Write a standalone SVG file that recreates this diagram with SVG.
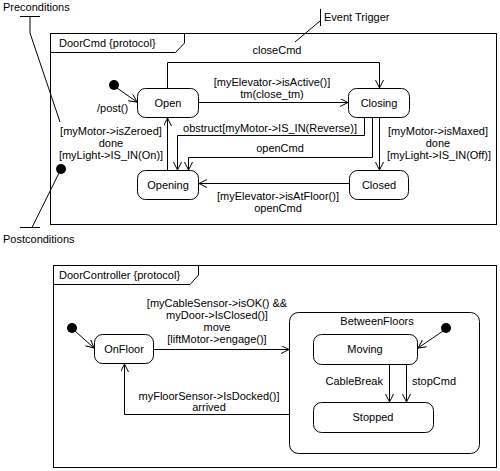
<svg xmlns="http://www.w3.org/2000/svg" width="500" height="471" viewBox="0 0 500 471">
<style>
text{font-family:"Liberation Sans",Arial,sans-serif;font-size:11px;fill:#000}
.c{text-anchor:middle}
.e{text-anchor:end}
.ln{fill:none;stroke:#000;stroke-width:1}
.st{fill:#fff;stroke:#000;stroke-width:1}
.dot{fill:#000}
</style>
<defs>
<marker id="arr" markerUnits="userSpaceOnUse" markerWidth="10" markerHeight="10" refX="8" refY="4" orient="auto">
<path d="M0,0 L8,4 L0,8" fill="none" stroke="#000" stroke-width="1"/>
</marker>
</defs>
<rect width="500" height="471" fill="#fff"/>

<g id="annotations">
<text x="3" y="11">Preconditions</text>
<path class="ln" d="M20,16.5 H40 M30,16.5 V33 L60,122"/>
<text x="3" y="243">Postconditions</text>
<path class="ln" d="M20,227.5 H40 M32,227.5 L61,169"/>
<circle class="dot" cx="61" cy="169" r="5"/>
<text x="324" y="21">Event Trigger</text>
<path class="ln" d="M320.5,9 V26 M320,21 L295,42"/>
</g>

<g id="DoorCmd">
<rect class="ln" x="50.5" y="33.5" width="446" height="191"/>
<path class="ln" d="M50.5,52.5 H175.5 L184.5,43 V33.5"/>
<text x="59" y="47">DoorCmd {protocol}</text>
</g>

<g id="Open">
<rect class="st" x="137.5" y="88.5" width="61" height="29" rx="8"/>
<text class="c" x="168" y="107">Open</text>
</g>
<g id="Closing">
<rect class="st" x="348.5" y="88.5" width="61" height="29" rx="8"/>
<text class="c" x="379" y="107">Closing</text>
</g>
<g id="Opening">
<rect class="st" x="137.5" y="170.5" width="61" height="29" rx="8"/>
<text class="c" x="168" y="189">Opening</text>
</g>
<g id="Closed">
<rect class="st" x="349.5" y="170.5" width="59" height="29" rx="8"/>
<text class="c" x="379" y="189">Closed</text>
</g>
<g id="init1"><circle class="dot" cx="114" cy="85" r="5"/></g>

<g id="DoorController">
<rect class="ln" x="53.5" y="265.5" width="443" height="202"/>
<path class="ln" d="M53.5,284.5 H190 L198.5,275 V265.5"/>
<text x="59" y="279">DoorController {protocol}</text>
</g>
<g id="OnFloor">
<rect class="st" x="94.5" y="334.5" width="59" height="29" rx="8"/>
<text class="c" x="124" y="353">OnFloor</text>
</g>
<g id="BetweenFloors">
<rect class="st" x="289.5" y="312.5" width="190" height="141" rx="9"/>
<text class="c" x="377" y="325">BetweenFloors</text>
</g>
<g id="Moving">
<rect class="st" x="313.5" y="334.5" width="104" height="30" rx="8"/>
<text class="c" x="365" y="353">Moving</text>
</g>
<g id="Stopped">
<rect class="st" x="313.5" y="402.5" width="120" height="30" rx="8"/>
<text class="c" x="373" y="421">Stopped</text>
</g>
<g id="init2"><circle class="dot" cx="72" cy="328" r="5"/></g>
<g id="init3"><circle class="dot" cx="446" cy="328" r="5"/></g>

<g id="connectors">
<path class="ln" marker-end="url(#arr)" d="M117,88 L137,102"/>
<text x="97" y="112">/post()</text>

<path class="ln" marker-end="url(#arr)" d="M167.5,88 V62.5 H379.5 V88"/>
<text class="c" x="277" y="54">closeCmd</text>

<path class="ln" marker-end="url(#arr)" d="M199,102.5 H348"/>
<text class="c" x="272" y="86">[myElevator-&gt;isActive()]</text>
<text class="c" x="272" y="98">tm(close_tm)</text>

<path class="ln" marker-end="url(#arr)" d="M364.5,117 V135.5 H177.5 V170"/>
<text class="c" x="270" y="132">obstruct[myMotor-&gt;IS_IN(Reverse)]</text>

<path class="ln" marker-end="url(#arr)" d="M372.5,117 V157.5 H188.5 V170"/>
<text class="c" x="280" y="152">openCmd</text>

<path class="ln" marker-end="url(#arr)" d="M379.5,117 V170"/>
<text class="c" x="438" y="135">[myMotor-&gt;isMaxed]</text>
<text class="c" x="438" y="147">done</text>
<text class="c" x="439" y="158.5">[myLight-&gt;IS_IN(Off)]</text>

<path class="ln" marker-end="url(#arr)" d="M349,183.5 H199"/>
<text class="c" x="278" y="200">[myElevator-&gt;isAtFloor()]</text>
<text class="c" x="278" y="212">openCmd</text>

<path class="ln" marker-end="url(#arr)" d="M167.5,170 V118"/>
<text class="c" x="111" y="135">[myMotor-&gt;isZeroed]</text>
<text class="c" x="111" y="147">done</text>
<text class="c" x="111" y="158.5">[myLight-&gt;IS_IN(On)]</text>

<path class="ln" marker-end="url(#arr)" d="M75,331 L94,348"/>

<path class="ln" marker-end="url(#arr)" d="M153,349.5 H289"/>
<text class="c" x="217" y="307">[myCableSensor-&gt;isOK() &amp;&amp;</text>
<text class="c" x="217" y="319">myDoor-&gt;IsClosed()]</text>
<text class="c" x="217" y="331">move</text>
<text class="c" x="217" y="343">[liftMotor-&gt;engage()]</text>

<path class="ln" marker-end="url(#arr)" d="M289,414.5 H124.5 V364"/>
<text class="c" x="209" y="400">myFloorSensor-&gt;IsDocked()]</text>
<text class="c" x="209" y="411">arrived</text>

<path class="ln" marker-end="url(#arr)" d="M443,331 L418,348"/>

<path class="ln" marker-end="url(#arr)" d="M389.5,364 V402"/>
<text class="e" x="383" y="385">CableBreak</text>
<path class="ln" marker-end="url(#arr)" d="M406.5,364 V402"/>
<text x="412" y="385">stopCmd</text>
</g>
</svg>
